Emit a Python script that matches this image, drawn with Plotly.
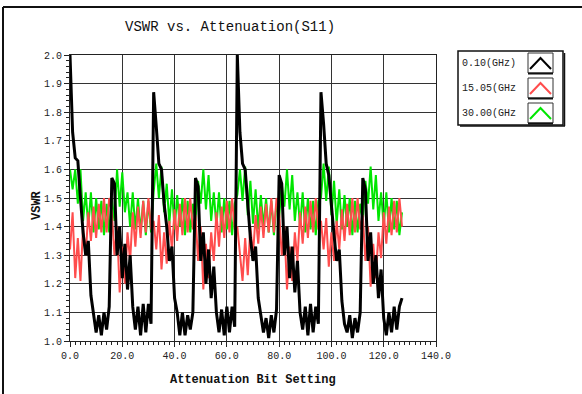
import plotly.graph_objects as go

# ---------------- data ----------------
bit_setting = list(range(128))

vswr_0_10 = [
    2.00, 1.73, 1.64, 1.63, 1.50, 1.38, 1.30, 1.35, 1.16, 1.10, 1.03, 1.09, 1.02, 1.10, 1.04, 1.12,
    1.57, 1.55, 1.30, 1.40, 1.22, 1.34, 1.18, 1.30, 1.12, 1.04, 1.12, 1.02, 1.13, 1.03, 1.13, 1.06,
    1.87, 1.75, 1.62, 1.60, 1.48, 1.40, 1.28, 1.33, 1.15, 1.10, 1.02, 1.10, 1.02, 1.09, 1.04, 1.10,
    1.57, 1.54, 1.28, 1.38, 1.20, 1.32, 1.15, 1.26, 1.10, 1.03, 1.11, 1.02, 1.12, 1.03, 1.12, 1.05,
    2.00, 1.73, 1.62, 1.60, 1.48, 1.36, 1.28, 1.33, 1.15, 1.08, 1.03, 1.08, 1.01, 1.09, 1.03, 1.11,
    1.58, 1.55, 1.30, 1.40, 1.22, 1.33, 1.17, 1.28, 1.10, 1.04, 1.12, 1.02, 1.13, 1.03, 1.12, 1.06,
    1.87, 1.76, 1.62, 1.58, 1.46, 1.37, 1.28, 1.32, 1.14, 1.06, 1.03, 1.09, 1.01, 1.08, 1.03, 1.10,
    1.57, 1.53, 1.28, 1.38, 1.20, 1.30, 1.15, 1.25, 1.08, 1.02, 1.10, 1.03, 1.12, 1.04, 1.12, 1.15,
]

vswr_15_05 = [
    1.32, 1.45, 1.22, 1.36, 1.21, 1.40, 1.30, 1.45, 1.35, 1.47, 1.36, 1.48, 1.38, 1.50, 1.38, 1.50,
    1.45, 1.30, 1.40, 1.17, 1.33, 1.20, 1.38, 1.28, 1.45, 1.33, 1.47, 1.36, 1.49, 1.38, 1.50, 1.39,
    1.42, 1.32, 1.44, 1.25, 1.38, 1.27, 1.42, 1.32, 1.46, 1.35, 1.48, 1.37, 1.50, 1.38, 1.50, 1.39,
    1.44, 1.28, 1.40, 1.18, 1.34, 1.22, 1.38, 1.28, 1.45, 1.33, 1.47, 1.36, 1.49, 1.38, 1.50, 1.39,
    1.40, 1.30, 1.21, 1.36, 1.23, 1.40, 1.30, 1.44, 1.34, 1.47, 1.36, 1.48, 1.38, 1.50, 1.38, 1.50,
    1.45, 1.30, 1.40, 1.18, 1.33, 1.21, 1.38, 1.28, 1.45, 1.34, 1.47, 1.36, 1.49, 1.38, 1.50, 1.39,
    1.42, 1.32, 1.43, 1.26, 1.38, 1.28, 1.42, 1.32, 1.46, 1.35, 1.48, 1.37, 1.50, 1.38, 1.50, 1.39,
    1.44, 1.28, 1.40, 1.19, 1.34, 1.22, 1.38, 1.29, 1.45, 1.34, 1.47, 1.37, 1.49, 1.38, 1.50, 1.40,
]

vswr_30_00 = [
    1.60, 1.53, 1.60, 1.48, 1.60, 1.42, 1.52, 1.40, 1.52, 1.38, 1.50, 1.39, 1.49, 1.37, 1.48, 1.38,
    1.50, 1.42, 1.60, 1.47, 1.59, 1.45, 1.52, 1.40, 1.52, 1.39, 1.50, 1.38, 1.49, 1.37, 1.49, 1.38,
    1.52, 1.62, 1.50, 1.61, 1.45, 1.55, 1.41, 1.53, 1.39, 1.51, 1.40, 1.50, 1.37, 1.49, 1.38, 1.48,
    1.42, 1.56, 1.48, 1.60, 1.46, 1.58, 1.42, 1.52, 1.40, 1.52, 1.38, 1.50, 1.39, 1.49, 1.37, 1.48,
    1.51, 1.60, 1.49, 1.61, 1.44, 1.56, 1.41, 1.53, 1.39, 1.51, 1.40, 1.50, 1.38, 1.49, 1.37, 1.48,
    1.43, 1.55, 1.47, 1.60, 1.46, 1.58, 1.42, 1.52, 1.40, 1.52, 1.38, 1.50, 1.39, 1.49, 1.37, 1.49,
    1.50, 1.62, 1.49, 1.61, 1.44, 1.56, 1.41, 1.53, 1.39, 1.51, 1.40, 1.50, 1.37, 1.49, 1.38, 1.48,
    1.42, 1.56, 1.48, 1.61, 1.46, 1.58, 1.42, 1.52, 1.40, 1.52, 1.38, 1.50, 1.39, 1.49, 1.37, 1.45,
]

series_names = ["0.10(GHz)", "15.05(GHz", "30.00(GHz"]
series_colors = ["#000000", "#ff4d4d", "#00e600"]

title_text = "VSWR vs. Attenuation(S11)"
x_title = "Attenuation Bit Setting"
y_title = "VSWR"

# ---------------- layout helpers ----------------
W, H = 582, 394
ML, MR, MT, MB = 70, 146, 55, 53
PW, PH = W - ML - MR, H - MT - MB


def px(x):
    return (x - ML) / PW


def py(y):
    return (H - MB - y) / PH


fig = go.Figure()

series_values = [vswr_0_10, vswr_15_05, vswr_30_00]
widths = [3.0, 2.0, 2.0]
for idx in [2, 1, 0]:
    fig.add_trace(go.Scatter(
        x=bit_setting, y=series_values[idx], mode="lines",
        name=series_names[idx],
        line=dict(color=series_colors[idx], width=widths[idx]),
        showlegend=False,
    ))

mono = "Liberation Mono"

fig.update_layout(
    width=W, height=H,
    margin=dict(l=ML, r=MR, t=MT, b=MB),
    paper_bgcolor="white", plot_bgcolor="white",
    font=dict(family=mono, size=10, color="#222"),
    xaxis=dict(
        range=[0, 140], tick0=0, dtick=20, tickformat=".1f",
        showgrid=True, gridcolor="#333333", gridwidth=1.3,
        zeroline=False, showline=True, linecolor="#222", linewidth=1, mirror=True,
        ticks="outside", ticklen=5, tickcolor="#222",
        minor=dict(dtick=2, ticks="outside", ticklen=3, tickcolor="#222", showgrid=False),
        tickfont=dict(family=mono, size=10),
    ),
    yaxis=dict(
        range=[1.0, 2.0], tick0=1.0, dtick=0.1, tickformat=".1f",
        showgrid=True, gridcolor="#333333", gridwidth=1.3,
        zeroline=False, showline=True, linecolor="#222", linewidth=1, mirror=True,
        ticks="outside", ticklen=5, tickcolor="#222",
        minor=dict(dtick=0.02, ticks="outside", ticklen=3, tickcolor="#222", showgrid=False),
        tickfont=dict(family=mono, size=10),
    ),
)

annotations = [
    dict(text=title_text, x=px(230), y=py(27), xref="paper", yref="paper",
         showarrow=False, xanchor="center", yanchor="middle",
         font=dict(family=mono, size=14, color="#111")),
    dict(text="<b>%s</b>" % x_title, x=px(253), y=py(380), xref="paper", yref="paper",
         showarrow=False, xanchor="center", yanchor="middle",
         font=dict(family=mono, size=12, color="#111")),
    dict(text="<b>%s</b>" % y_title, x=px(37), y=py(205), xref="paper", yref="paper",
         showarrow=False, xanchor="center", yanchor="middle", textangle=-90,
         font=dict(family=mono, size=12, color="#111")),
]

shapes = [
    dict(type="line", xref="paper", yref="paper", x0=px(3), y0=py(7), x1=px(600), y1=py(7),
         line=dict(color="#111", width=2)),
    dict(type="line", xref="paper", yref="paper", x0=px(3), y0=py(7), x1=px(3), y1=py(410),
         line=dict(color="#111", width=2)),
    dict(type="rect", xref="paper", yref="paper", x0=px(458), y0=py(51), x1=px(563), y1=py(125),
         line=dict(color="#111", width=1.5), fillcolor="white"),
    dict(type="line", xref="paper", yref="paper", x0=px(460), y0=py(126), x1=px(565), y1=py(126),
         line=dict(color="#111", width=1.5)),
    dict(type="line", xref="paper", yref="paper", x0=px(564.5), y0=py(53), x1=px(564.5), y1=py(126),
         line=dict(color="#111", width=1.5)),
]

legend_rows = [63, 88, 113]
for name, color, yc in zip(series_names, series_colors, legend_rows):
    annotations.append(dict(text=name, x=px(518), y=py(yc), xref="paper", yref="paper",
                            showarrow=False, xanchor="right", yanchor="middle",
                            font=dict(family=mono, size=10, color="#222")))
    bx0, bx1, by0, by1 = 528, 553, yc - 10, yc + 10
    shapes.append(dict(type="rect", xref="paper", yref="paper",
                       x0=px(bx0), y0=py(by0), x1=px(bx1), y1=py(by1),
                       line=dict(color="#333", width=1), fillcolor="white"))
    shapes.append(dict(type="line", xref="paper", yref="paper",
                       x0=px(bx0), y0=py(by1 + 0.5), x1=px(bx1), y1=py(by1 + 0.5),
                       line=dict(color="#111", width=2)))
    path = "M %f,%f L %f,%f L %f,%f" % (
        px(bx0 + 2), py(by1 - 4), px((bx0 + bx1) / 2), py(by0 + 5), px(bx1 - 2), py(by1 - 4))
    shapes.append(dict(type="path", xref="paper", yref="paper", path=path,
                       line=dict(color=color, width=2)))

fig.update_layout(annotations=annotations, shapes=shapes)

fig.write_html("out.html")
